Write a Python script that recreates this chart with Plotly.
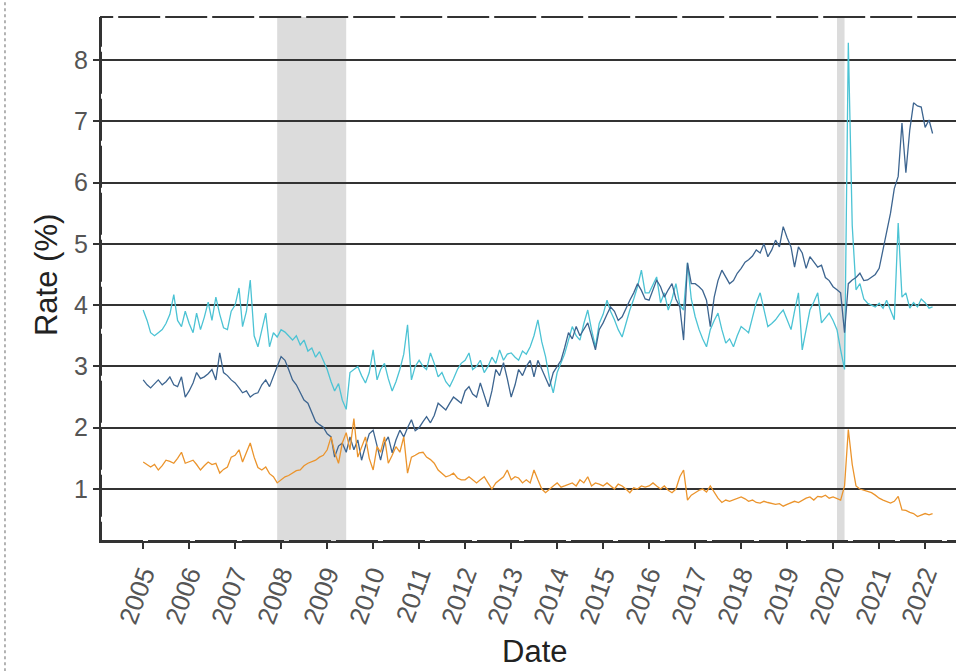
import pandas as pd
import plotly.graph_objects as go

# ---------------- data (monthly, Jan 2005 - Mar 2022) ----------------
start_month = "2005-01-01"
n_months = 207

cyan_rate = [
    3.92, 3.75, 3.55, 3.5, 3.55, 3.6, 3.7, 3.85, 4.17, 3.75, 3.65, 3.9,        # 2005
    3.7, 3.55, 3.87, 3.6, 3.8, 4.05, 3.75, 4.13, 3.85, 3.63, 3.6, 3.9,         # 2006
    4.0, 4.28, 3.65, 3.9, 4.41, 3.5, 3.32, 3.6, 3.87, 3.32, 3.55, 3.48,        # 2007
    3.6, 3.56, 3.5, 3.43, 3.5, 3.35, 3.43, 3.25, 3.3, 3.15, 3.24, 3.1,         # 2008
    2.95, 2.75, 2.6, 2.72, 2.45, 2.3, 2.9, 2.95, 3.0, 2.85, 2.73, 2.9,         # 2009
    3.27, 2.78, 2.95, 3.05, 2.8, 2.6, 2.75, 2.95, 3.2, 3.68, 2.78, 3.0,        # 2010
    3.1, 3.0, 2.95, 3.22, 3.05, 2.83, 2.9, 2.75, 2.67, 2.8, 2.95, 3.05,        # 2011
    3.1, 3.22, 2.95, 3.0, 3.1, 2.9, 3.0, 3.15, 3.05, 3.27, 3.1, 3.2,           # 2012
    3.22, 3.15, 3.1, 3.25, 3.2, 3.32, 3.5, 3.76, 3.4, 3.16, 2.8, 2.57,         # 2013
    2.9, 3.06, 3.2, 3.43, 3.65, 3.5, 3.43, 3.7, 3.92, 3.6, 3.32, 3.7,          # 2014
    3.85, 4.08, 3.9, 3.76, 3.6, 3.48, 3.7, 3.92, 4.1, 4.3, 4.57, 4.2,          # 2015
    4.2, 4.35, 4.46, 4.04, 4.2, 3.92, 4.1, 4.35, 4.0, 3.92, 4.69, 4.1,         # 2016
    3.81, 3.6, 3.45, 3.32, 3.6, 3.75, 3.87, 3.6, 3.38, 3.45, 3.32, 3.5,        # 2017
    3.65, 3.6, 3.55, 3.8, 4.04, 4.2, 3.9, 3.65, 3.7, 3.76, 3.85, 3.92,         # 2018
    3.76, 3.6, 3.9, 4.2, 3.27, 3.6, 3.92, 4.05, 4.2, 3.71, 3.8, 3.87,          # 2019
    3.75, 3.6, 3.27, 2.95, 8.28, 5.3, 4.25, 4.35, 4.1, 4.03, 4.0, 3.97,        # 2020
    4.03, 3.95, 4.08, 3.9, 3.76, 5.34, 4.13, 4.2, 3.95, 4.04, 3.97, 4.1,       # 2021
    4.04, 3.95, 3.97,                                                          # 2022
]

blue_rate = [
    2.78, 2.7, 2.65, 2.72, 2.78, 2.7, 2.75, 2.83, 2.7, 2.67, 2.83, 2.5,        # 2005
    2.6, 2.73, 2.9, 2.8, 2.83, 2.88, 2.95, 2.78, 3.22, 2.9, 2.85, 2.78,        # 2006
    2.73, 2.65, 2.57, 2.6, 2.5, 2.55, 2.57, 2.7, 2.78, 2.67, 2.85, 3.0,        # 2007
    3.16, 3.1, 2.95, 2.78, 2.7, 2.57, 2.45, 2.4, 2.24, 2.1, 2.05, 2.01,        # 2008
    1.9, 1.85, 1.52, 1.7, 1.75, 1.6, 1.85, 1.64, 1.8, 1.47, 1.7, 1.9,          # 2009
    1.96, 1.7, 1.47, 1.75, 1.85, 1.59, 1.8, 1.96, 1.85, 2.0, 2.13, 1.95,       # 2010
    2.0, 2.1, 2.18, 2.08, 2.2, 2.4, 2.35, 2.29, 2.4, 2.5, 2.45, 2.4,           # 2011
    2.6, 2.67, 2.55, 2.5, 2.73, 2.55, 2.34, 2.6, 2.95, 2.85, 3.06, 2.8,        # 2012
    2.5, 2.7, 2.95, 2.85, 3.0, 3.1, 2.83, 3.1, 2.95, 2.8, 2.67, 2.9,           # 2013
    3.0, 3.1, 3.3, 3.55, 3.45, 3.65, 3.5, 3.6, 3.71, 3.5, 3.27, 3.6,           # 2014
    3.71, 3.85, 3.97, 3.9, 3.75, 3.81, 3.95, 4.08, 4.2, 4.35, 4.24, 4.1,       # 2015
    4.08, 4.25, 4.41, 4.3, 4.13, 4.25, 4.35, 4.1, 3.97, 3.43, 4.69, 4.35,      # 2016
    4.35, 4.3, 4.24, 4.08, 3.65, 4.13, 4.4, 4.57, 4.45, 4.35, 4.4, 4.52,       # 2017
    4.6, 4.7, 4.74, 4.8, 4.9, 4.85, 5.0, 4.79, 4.9, 5.06, 4.95, 5.28,          # 2018
    5.1, 4.95, 4.62, 4.95, 4.85, 4.6, 4.79, 4.7, 4.62, 4.65, 4.45, 4.4,        # 2019
    4.3, 4.25, 4.2, 3.55, 4.35, 4.41, 4.45, 4.52, 4.4, 4.41, 4.45, 4.5,        # 2020
    4.6, 4.9, 5.2, 5.5, 5.9, 6.1, 6.97, 6.16, 6.86, 7.3, 7.25, 7.23,           # 2021
    6.9, 7.02, 6.8,                                                            # 2022
]

orange_rate = [
    1.44, 1.4, 1.36, 1.4, 1.31, 1.38, 1.47, 1.45, 1.42, 1.5, 1.6, 1.42,        # 2005
    1.45, 1.47, 1.4, 1.31, 1.38, 1.44, 1.4, 1.42, 1.26, 1.32, 1.36, 1.52,      # 2006
    1.55, 1.64, 1.44, 1.6, 1.75, 1.52, 1.35, 1.31, 1.36, 1.25, 1.2, 1.1,       # 2007
    1.15, 1.2, 1.22, 1.26, 1.3, 1.31, 1.38, 1.42, 1.45, 1.47, 1.52, 1.55,      # 2008
    1.64, 1.85, 1.6, 1.42, 1.75, 1.92, 1.64, 2.15, 1.52, 1.7, 1.85, 1.5,       # 2009
    1.31, 1.69, 1.6, 1.85, 1.42, 1.55, 1.69, 1.6, 1.85, 1.26, 1.52, 1.55,      # 2010
    1.59, 1.6, 1.52, 1.48, 1.42, 1.31, 1.25, 1.2, 1.22, 1.26, 1.18, 1.15,      # 2011
    1.15, 1.2, 1.15, 1.1, 1.15, 1.2, 1.1, 1.0, 1.1, 1.15, 1.2, 1.31,           # 2012
    1.15, 1.2, 1.18, 1.1, 1.15, 1.1, 1.31, 1.15, 1.0, 0.94, 1.0, 1.05,         # 2013
    1.1, 1.03, 1.05, 1.08, 1.1, 1.05, 1.15, 1.1, 1.2, 1.05, 1.1, 1.08,         # 2014
    1.05, 1.1, 1.05, 1.0, 1.08, 1.05, 1.0, 0.94, 1.02, 1.0, 1.05, 1.03,        # 2015
    1.05, 1.1, 1.05, 1.0, 1.05, 0.98, 0.94, 1.0, 1.2, 1.31, 0.82, 0.9,         # 2016
    0.94, 0.98, 1.0, 0.95, 1.05, 0.94, 0.85, 0.78, 0.82, 0.8, 0.82, 0.85,      # 2017
    0.87, 0.84, 0.8, 0.82, 0.78, 0.77, 0.8, 0.78, 0.77, 0.75, 0.76, 0.72,      # 2018
    0.75, 0.77, 0.8, 0.78, 0.82, 0.85, 0.87, 0.82, 0.88, 0.87, 0.9, 0.85,      # 2019
    0.87, 0.85, 0.82, 1.05, 1.97, 1.4, 1.05, 1.0, 0.98, 0.96, 0.94, 0.9,       # 2020
    0.85, 0.82, 0.8, 0.77, 0.8, 0.88, 0.66, 0.65, 0.62, 0.6, 0.55, 0.58,       # 2021
    0.6, 0.58, 0.6,                                                            # 2022
]

recessions = [("2007-12-01", "2009-06-01"), ("2020-02-01", "2020-04-01")]

tick_years = [str(y) for y in range(2005, 2023)]
y_ticks = [1, 2, 3, 4, 5, 6, 7, 8]

dates = pd.date_range(start_month, periods=n_months, freq="MS")

# ---------------- figure ----------------
fig = go.Figure()

series = [
    ("cyan", cyan_rate, "#4cc3d4"),
    ("blue", blue_rate, "#3d6590"),
    ("orange", orange_rate, "#eb942c"),
]
for name, vals, col in series:
    fig.add_trace(go.Scatter(x=dates, y=vals, mode="lines", name=name,
                             line=dict(color=col, width=1.3), showlegend=False))

for a, b in recessions:
    fig.add_shape(type="rect", xref="x", yref="paper", x0=a, x1=b, y0=0, y1=1,
                  fillcolor="#dcdcdc", line=dict(width=0), layer="below")

# dashed panel border
fig.add_shape(type="rect", xref="paper", yref="paper", x0=0, x1=1.02, y0=0, y1=1,
              line=dict(color="#333333", width=2, dash="42px,5px"), layer="above")
# dotted outer border on far left
fig.add_shape(type="line", xref="paper", yref="paper", x0=-0.1123, x1=-0.1123,
              y0=-0.26, y1=1.04, line=dict(color="#9a9a9a", width=1.5, dash="dot"))

# axis titles
fig.add_annotation(text="Date", xref="paper", yref="paper", x=0.5076, y=-0.2118,
                   xanchor="center", yanchor="middle", showarrow=False,
                   font=dict(size=31, color="#222222"))
fig.add_annotation(text="Rate (%)", xref="paper", yref="paper", x=-0.0643, y=0.5076,
                   xanchor="center", yanchor="middle", showarrow=False, textangle=-90,
                   font=dict(size=31, color="#222222"))

fig.update_layout(
    width=956, height=671,
    margin=dict(l=101, r=0, t=17, b=130, autoexpand=False),
    paper_bgcolor="white", plot_bgcolor="white",
    font=dict(family="Liberation Sans, Arial, sans-serif", color="#4d4d4d"),
)

fig.update_xaxes(
    range=["2004-02-01", "2022-09-03"],
    tickvals=[f"{y}-01-01" for y in tick_years], ticktext=tick_years,
    tickangle=-70, tickfont=dict(size=26, color="#555555"),
    ticks="outside", ticklen=6, tickwidth=1.5, tickcolor="#333333",
    showgrid=False, zeroline=False, automargin=False,
    showline=True, linecolor="#333333", linewidth=2,
)
fig.update_yaxes(
    range=[0.152, 8.70],
    tickvals=y_ticks,
    tickfont=dict(size=25, color="#555555"),
    ticks="outside", ticklen=6, tickwidth=1.5, tickcolor="#333333",
    showgrid=True, gridcolor="#333333", gridwidth=2,
    zeroline=False, automargin=False,
    showline=True, linecolor="#333333", linewidth=2,
)

fig.write_html(
    "out.html",
    config={"displayModeBar": False},
    post_script="document.body.style.margin='0';document.body.style.overflow='hidden';",
)
